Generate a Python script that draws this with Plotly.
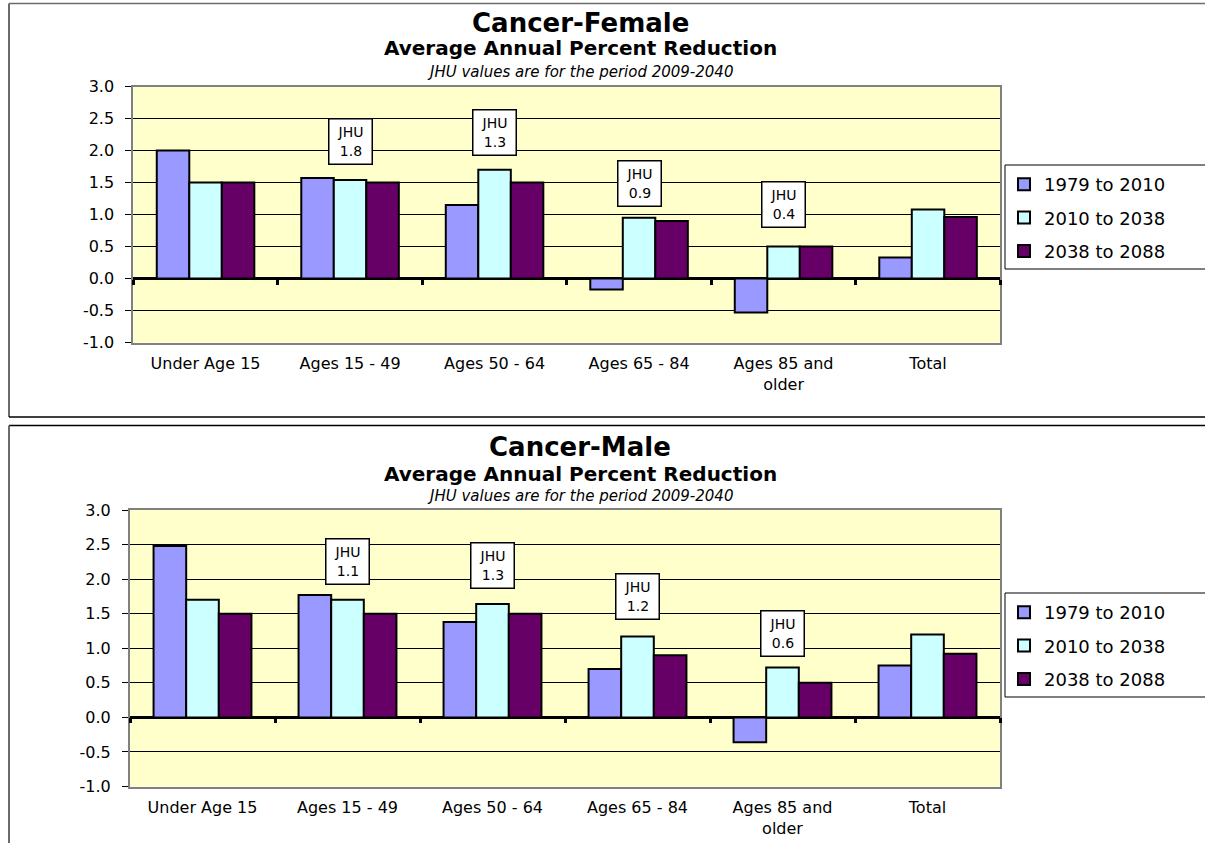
import plotly.graph_objects as go

# ---- data -------------------------------------------------------------
categories = ["Under Age 15", "Ages 15 - 49", "Ages 50 - 64", "Ages 65 - 84",
              "Ages 85 and<br>older", "Total"]
series_names = ["1979 to 2010", "2010 to 2038", "2038 to 2088"]

female_1979_2010 = [2.0, 1.57, 1.15, -0.17, -0.53, 0.33]
female_2010_2038 = [1.5, 1.54, 1.70, 0.95, 0.50, 1.08]
female_2038_2088 = [1.5, 1.50, 1.50, 0.90, 0.50, 0.96]

male_1979_2010 = [2.48, 1.77, 1.38, 0.70, -0.36, 0.75]
male_2010_2038 = [1.70, 1.70, 1.64, 1.17, 0.72, 1.20]
male_2038_2088 = [1.50, 1.50, 1.50, 0.90, 0.50, 0.92]

jhu_female = [None, 1.8, 1.3, 0.9, 0.4, None]
jhu_male = [None, 1.1, 1.3, 1.2, 0.6, None]

y_tick_values = [-1.0, -0.5, 0.0, 0.5, 1.0, 1.5, 2.0, 2.5, 3.0]
y_tick_labels = [f"{v:.1f}" for v in y_tick_values]

# ---- styling ----------------------------------------------------------
FONT = "DejaVu Sans"
W, H = 1205, 843
bar_colors = ["#9999FF", "#CCFFFF", "#660066"]
plot_bg = "#FFFFCC"
y_range = [-1.0, 3.0]

# vertical placement of the JHU call-out boxes (in axis units)
jhu_female_box_y = [None, 2.14, 2.28, 1.49, 1.15, None]
jhu_male_box_y = [None, 2.26, 2.19, 1.75, 1.21, None]


def px_x(v):
    return v / W


def px_y(v):
    return 1 - v / H


panels = [
    dict(title="Cancer-Female", series=[female_1979_2010, female_2010_2038, female_2038_2088],
         jhu=jhu_female, jhu_y=jhu_female_box_y,
         xdom=[px_x(133.3), px_x(1000.3)], ydom=[px_y(342.5), px_y(86.5)],
         title_y=[23.5, 48.5, 71.5], legend_top=165, frame=(3.5, 417)),
    dict(title="Cancer-Male", series=[male_1979_2010, male_2010_2038, male_2038_2088],
         jhu=jhu_male, jhu_y=jhu_male_box_y,
         xdom=[px_x(130.0), px_x(1000.0)], ydom=[px_y(786.5), px_y(510.0)],
         title_y=[446.5, 473.5, 496.0], legend_top=593, frame=(425.5, None)),
]

fig = go.Figure()
annotations = []
shapes = []
layout_axes = {}

for i, p in enumerate(panels):
    n = i + 1
    xa = "x" if n == 1 else f"x{n}"
    ya = "y" if n == 1 else f"y{n}"
    tick_axis_id = n + 2
    leg = "legend" if n == 1 else f"legend{n}"

    for name, vals, col in zip(series_names, p["series"], bar_colors):
        fig.add_trace(go.Bar(
            x=categories, y=vals, name=name, xaxis=xa, yaxis=ya,
            marker=dict(color=col, line=dict(color="black", width=2)),
            legend=leg, legendgroup=f"{leg}-{name}",
            hoverinfo="x+y+name",
        ))

    # category-boundary tick marks along the zero line
    fig.add_trace(go.Scatter(x=[-0.5, 5.5], y=[None, None], mode="none",
                             xaxis=f"x{tick_axis_id}", yaxis=ya,
                             showlegend=False, hoverinfo="skip"))

    y0, y1 = p["ydom"]
    zero_pos = y0 + (y1 - y0) * (0 - y_range[0]) / (y_range[1] - y_range[0])

    key_x = "xaxis" if n == 1 else f"xaxis{n}"
    key_y = "yaxis" if n == 1 else f"yaxis{n}"
    layout_axes[key_x] = dict(
        domain=p["xdom"], anchor=ya, type="category",
        categoryorder="array", categoryarray=categories,
        showline=True, linecolor="#808080", linewidth=2, mirror=True,
        ticks="", showgrid=False, ticklabelstandoff=5,
        tickfont=dict(family=FONT, size=16, color="black"),
    )
    layout_axes[key_y] = dict(
        domain=p["ydom"], anchor=xa, range=y_range,
        tickmode="array", tickvals=y_tick_values, ticktext=y_tick_labels,
        showline=True, linecolor="#808080", linewidth=2, mirror=True,
        ticks="outside", ticklen=6, tickcolor="black", tickwidth=1,
        ticklabelstandoff=8,
        showgrid=True, gridcolor="black", gridwidth=1,
        zeroline=True, zerolinecolor="black", zerolinewidth=3,
        tickfont=dict(family=FONT, size=16, color="black"),
    )
    layout_axes[f"xaxis{tick_axis_id}"] = dict(
        overlaying=xa, anchor="free", position=zero_pos, side="bottom",
        range=[-0.5, 5.5], tickmode="linear", tick0=-0.5, dtick=1,
        ticks="outside", ticklen=5, tickwidth=3, tickcolor="black",
        showticklabels=False, showgrid=False, zeroline=False, showline=False,
    )

    # JHU call-out boxes
    for cat, val, yy in zip(categories, p["jhu"], p["jhu_y"]):
        if val is None:
            continue
        annotations.append(dict(
            x=cat, y=yy, xref=xa, yref=ya, showarrow=False,
            text=f"JHU<br>{val:.1f}", align="center",
            font=dict(family=FONT, size=14, color="black"),
            bgcolor="white", bordercolor="black", borderwidth=1.5,
            borderpad=2, width=38, height=40, valign="middle",
        ))

    # titles
    tcx = px_x(580)
    for txt, yy, size in zip(
        [f"<b>{p['title']}</b>", "<b>Average Annual Percent Reduction</b>",
         "<i>JHU values are for the period 2009-2040</i>"],
        p["title_y"], [26, 20, 15]):
        annotations.append(dict(
            x=tcx, y=px_y(yy), xref="paper", yref="paper", showarrow=False,
            xanchor="center", yanchor="middle", text=txt,
            font=dict(family=FONT, size=size, color="black"),
        ))

    # chart frame
    ftop, fbot = p["frame"]
    shapes.append(dict(type="line", xref="paper", yref="paper",
                       x0=px_x(9), x1=1.02, y0=px_y(ftop), y1=px_y(ftop),
                       line=dict(color="#6b6b6b" if n == 1 else "black", width=1.5)))
    shapes.append(dict(type="line", xref="paper", yref="paper",
                       x0=px_x(9), x1=px_x(9), y0=px_y(fbot if fbot else 860), y1=px_y(ftop),
                       line=dict(color="#6b6b6b", width=2)))
    if fbot:
        shapes.append(dict(type="line", xref="paper", yref="paper",
                           x0=px_x(9), x1=1.02, y0=px_y(fbot), y1=px_y(fbot),
                           line=dict(color="black", width=1.5)))

    # legend box
    lt = p["legend_top"]
    shapes.append(dict(type="rect", xref="paper", yref="paper",
                       x0=px_x(1005), x1=1.02, y0=px_y(lt + 104), y1=px_y(lt),
                       fillcolor="white", line=dict(color="black", width=1), layer="below"))
    layout_axes[leg] = dict(
        x=px_x(1004), y=px_y(lt + 1), xanchor="left", yanchor="top",
        bgcolor="rgba(0,0,0,0)", borderwidth=0, tracegroupgap=7,
        font=dict(family=FONT, size=18, color="black"),
        itemclick=False, itemdoubleclick=False,
    )

fig.update_layout(
    width=W, height=H,
    margin=dict(l=0, r=0, t=0, b=0, autoexpand=False),
    paper_bgcolor="white", plot_bgcolor=plot_bg,
    barmode="group", bargap=0.325, bargroupgap=0,
    annotations=annotations, shapes=shapes,
    showlegend=True,
    font=dict(family=FONT, color="black"),
    **layout_axes,
)

fig.write_html("out.html")
